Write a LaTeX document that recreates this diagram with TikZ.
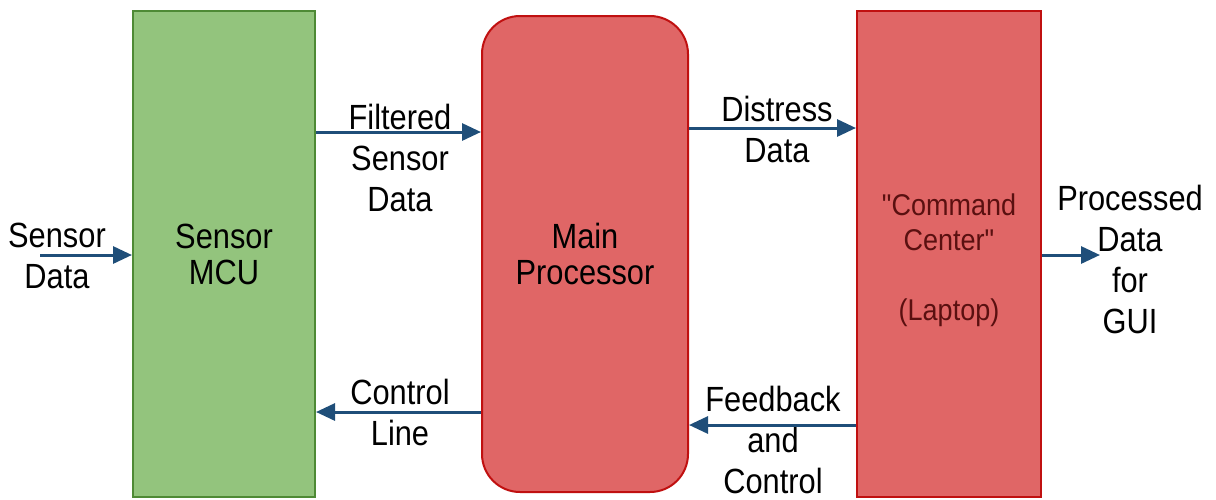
\documentclass[tikz,border=0pt]{standalone}
\usepackage{fontspec}
\setmainfont{Liberation Sans}
\newfontfamily\lbl[FakeStretch=0.88]{Liberation Sans}
\newfontfamily\thinlbl[FakeStretch=0.9]{Liberation Sans}
\usetikzlibrary{arrows.meta}
\definecolor{gfill}{HTML}{93C47D}
\definecolor{gdraw}{HTML}{4E8A35}
\definecolor{rfill}{HTML}{E06666}
\definecolor{rdraw}{HTML}{C01010}
\definecolor{arr}{HTML}{1F4E79}
\definecolor{ctext}{HTML}{5A1010}
\begin{document}
\begin{tikzpicture}[x=1pt,y=-1pt,
  blk/.style={line width=2pt, inner sep=0pt, align=center},
  txt/.style={font=\lbl\fontsize{35}{41}\selectfont, align=center, inner sep=0pt},
  conn/.style={draw=arr, line width=3pt, -{Triangle[length=19pt,width=17pt]}}]
\useasboundingbox (0,0) rectangle (1216,499);
% blocks
\node[blk, draw=gdraw, fill=gfill, minimum width=182pt, minimum height=486pt,
      font=\lbl\fontsize{35}{36}\selectfont] (mcu) at (224,254) {Sensor\\MCU};
\node[blk, draw=rdraw, fill=rfill, rounded corners=38pt, minimum width=206pt, minimum height=476pt,
      font=\lbl\fontsize{35}{36}\selectfont] (main) at (585,254) {Main\\Processor};
\node[blk, draw=rdraw, fill=rfill, minimum width=184pt, minimum height=486pt] (cmd) at (949,254) {};
\node[align=center, inner sep=0pt, text=ctext, font=\thinlbl\fontsize{30}{35}\selectfont]
      (cmdtxt) at ([yshift=-6pt]cmd.center) {"Command\\Center"\\[35pt](Laptop)};
% labels
\node[txt] (lsd) at (57,256) {Sensor\\Data};
\node[txt] (lfsd) at (400,158) {Filtered\\Sensor\\Data};
\node[txt] (ldd) at (777,129) {Distress\\Data};
\node[txt] (lpd) at (1130,259) {Processed\\Data\\for\\GUI};
\node[txt] (lcl) at (400,412) {Control\\Line};
\node[txt] (lfc) at (773,440) {Feedback\\and\\Control};
% free ends
\coordinate (sin) at (40,255);
\coordinate (pout) at (1100,255);
% connectors
\draw[conn] (sin) -- (mcu.west |- sin);
\draw[conn] (mcu.east |- 0,132) -- (main.west |- 0,132);
\draw[conn] (main.east |- 0,128) -- (cmd.west |- 0,128);
\draw[conn] (cmd.east |- pout) -- (pout);
\draw[conn] (main.west |- 0,412) -- (mcu.east |- 0,412);
\draw[conn] (cmd.west |- 0,425) -- (main.east |- 0,425);
\end{tikzpicture}
\end{document}
